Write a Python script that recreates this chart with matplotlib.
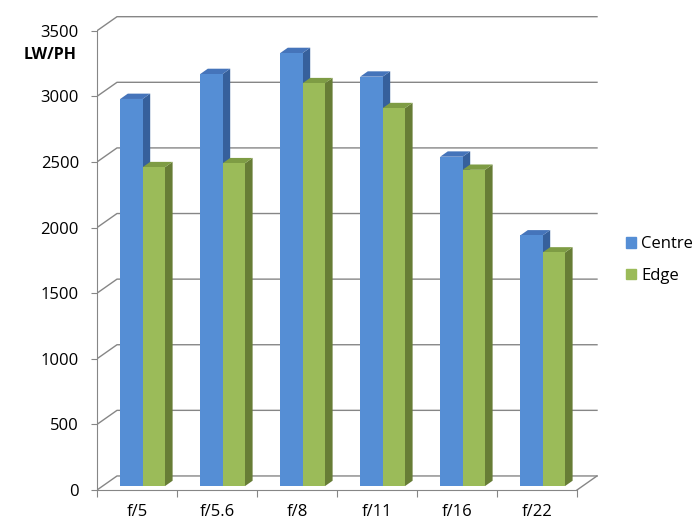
import numpy as np
import matplotlib.pyplot as plt
from matplotlib.patches import Polygon, Patch

plt.rcParams['font.family'] = ['Open Sans', 'DejaVu Sans']

# data
categories = ['f/5', 'f/5.6', 'f/8', 'f/11', 'f/16', 'f/22']
centre = [2950, 3140, 3300, 3120, 2510, 1910]
edge = [2430, 2460, 3070, 2880, 2410, 1780]
yticks = [0, 500, 1000, 1500, 2000, 2500, 3000, 3500]

# 3d look: depth offset in data units
DX = 0.25
DY = 107
d0, d1 = 0.28, 0.66
w = 0.28
grid_col = '#868686'

fig = plt.figure(figsize=(6.95, 5.26), dpi=100)
ax = fig.add_axes([97 / 695, 36 / 526, 520 / 695, 480 / 526])
ax.set_xlim(-0.5, 5.5 + 0.5)
ax.set_ylim(0, 3658)


def proj(x, y, d):
    return (x + d * DX, y + d * DY)


# walls / gridlines
for v in yticks:
    ax.plot([-0.5, -0.5 + DX, 5.5 + DX], [v, v + DY, v + DY], color=grid_col, lw=1, zorder=1)
ax.plot([5.5, 5.5 + DX], [0, DY], color=grid_col, lw=1, zorder=1)

series = [
    (centre, -w, '#558ED5', '#36609C', '#4574BA', 'Centre'),
    (edge, 0.0, '#9BBB59', '#677D36', '#7E9C44', 'Edge'),
]

x = np.arange(len(categories))
for i in range(len(categories)):
    for vals, off, front, side, top, name in series:
        v = vals[i]
        xl = x[i] + off
        xr = xl + w
        side_pts = [proj(xr, 0, d0), proj(xr, v, d0), proj(xr, v, d1), proj(xr, 0, d1)]
        top_pts = [proj(xl, v, d0), proj(xr, v, d0), proj(xr, v, d1), proj(xl, v, d1)]
        ax.add_patch(Polygon(side_pts, closed=True, facecolor=side, edgecolor='none', zorder=3))
        ax.add_patch(Polygon(top_pts, closed=True, facecolor=top, edgecolor='none', zorder=3))
        ax.bar(xl + d0 * DX, v, width=w, bottom=d0 * DY, align='edge', color=front, zorder=3)

# axes
for s in ['top', 'right']:
    ax.spines[s].set_visible(False)
ax.spines['left'].set_bounds(0, 3500)
ax.spines['bottom'].set_bounds(-0.5, 5.5)
ax.spines['left'].set_color(grid_col)
ax.spines['bottom'].set_color(grid_col)

ax.set_yticks(yticks)
ax.set_yticklabels([str(t) for t in yticks], fontsize=12)
ax.tick_params(axis='y', length=4, color=grid_col, pad=9)

ax.set_xticks(np.arange(-0.5, 6.0, 1.0))
ax.set_xticklabels([])
ax.tick_params(axis='x', which='major', length=5, color=grid_col)
ax.set_xticks(x, minor=True)
ax.set_xticklabels(categories, minor=True, fontsize=12)
ax.tick_params(axis='x', which='minor', length=0, pad=10)

fig.text(77 / 695, 1 - 55 / 526, 'LW/PH', ha='right', va='center', fontsize=11.5, fontweight='bold')

handles = [Patch(color='#558ED5', label='Centre'), Patch(color='#9BBB59', label='Edge')]
fig.legend(handles=handles, loc='center left', bbox_to_anchor=(626 / 695, 1 - 260 / 526),
           frameon=False, fontsize=12, handlelength=0.6, handleheight=0.6,
           handletextpad=0.3, labelspacing=0.95, borderpad=0, borderaxespad=0)

plt.savefig('out.png', dpi=100)
